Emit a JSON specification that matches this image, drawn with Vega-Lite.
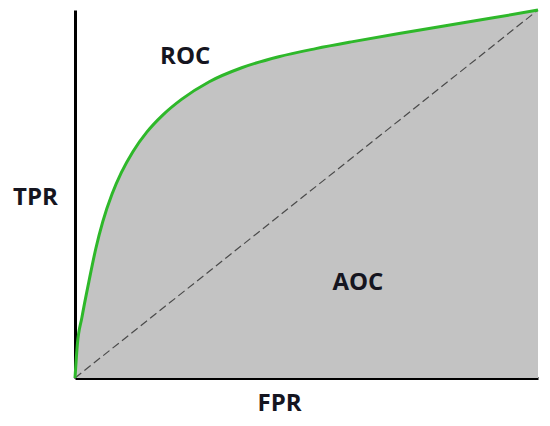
{
  "$schema": "https://vega.github.io/schema/vega-lite/v6.json",
  "autosize": {"type": "none"},
  "padding": {"left": 75, "top": 10, "right": 12, "bottom": 48},
  "width": 463,
  "height": 368,
  "background": "white",
  "config": {"view": {"stroke": null}},
  "datasets": {
    "roc": [
      {"fpr": 0, "tpr": 0},
      {"fpr": 0.005, "tpr": 0.09},
      {"fpr": 0.015, "tpr": 0.165},
      {"fpr": 0.03, "tpr": 0.262},
      {"fpr": 0.045, "tpr": 0.352},
      {"fpr": 0.06, "tpr": 0.425},
      {"fpr": 0.08, "tpr": 0.5},
      {"fpr": 0.1, "tpr": 0.558},
      {"fpr": 0.125, "tpr": 0.615},
      {"fpr": 0.155, "tpr": 0.668},
      {"fpr": 0.19, "tpr": 0.715},
      {"fpr": 0.23, "tpr": 0.757},
      {"fpr": 0.29, "tpr": 0.805},
      {"fpr": 0.36, "tpr": 0.843},
      {"fpr": 0.44, "tpr": 0.873},
      {"fpr": 0.52, "tpr": 0.895},
      {"fpr": 0.6, "tpr": 0.914},
      {"fpr": 0.7, "tpr": 0.936},
      {"fpr": 0.8, "tpr": 0.957},
      {"fpr": 0.9, "tpr": 0.978},
      {"fpr": 1, "tpr": 1}
    ],
    "diag": [
      {"fpr": 0, "tpr": 0},
      {"fpr": 1, "tpr": 1}
    ],
    "labels": [
      {"fpr": 0.238, "tpr": 0.872, "label": "ROC"},
      {"fpr": 0.611, "tpr": 0.258, "label": "AOC"}
    ]
  },
  "layer": [
    {
      "data": {"name": "roc"},
      "mark": {"type": "area", "color": "#c3c3c3", "interpolate": "monotone"},
      "encoding": {
        "x": {
          "field": "fpr", "type": "quantitative",
          "scale": {"domain": [0, 1], "nice": false, "zero": false},
          "axis": {
            "title": "FPR", "labels": false, "ticks": false, "grid": false,
            "domainColor": "#000", "domainWidth": 3,
            "titleFont": "Open Sans", "titleFontWeight": "bold", "titleFontSize": 24,
            "titleColor": "#151520", "titleX": 204, "titleY": 25, "titleAnchor": "middle", "titleBaseline": "middle"
          }
        },
        "y": {
          "field": "tpr", "type": "quantitative",
          "scale": {"domain": [0, 1], "nice": false, "zero": false},
          "axis": {
            "title": "TPR", "labels": false, "ticks": false, "grid": false,
            "domainColor": "#000", "domainWidth": 3,
            "titleFont": "Open Sans", "titleFontWeight": "bold", "titleFontSize": 24,
            "titleColor": "#151520", "titleAngle": 0, "titleX": -40, "titleY": 187,
            "titleAlign": "center", "titleBaseline": "middle"
          }
        }
      }
    },
    {
      "data": {"name": "diag"},
      "mark": {"type": "line", "color": "#4a4a4a", "strokeWidth": 1.2, "strokeDash": [8, 4]},
      "encoding": {
        "x": {"field": "fpr", "type": "quantitative"},
        "y": {"field": "tpr", "type": "quantitative"}
      }
    },
    {
      "data": {"name": "roc"},
      "mark": {"type": "line", "color": "#2eb82a", "strokeWidth": 3, "interpolate": "monotone"},
      "encoding": {
        "x": {"field": "fpr", "type": "quantitative"},
        "y": {"field": "tpr", "type": "quantitative"}
      }
    },
    {
      "data": {"name": "labels"},
      "mark": {"type": "text", "font": "Open Sans", "fontWeight": "bold", "fontSize": 24, "color": "#151520", "align": "center", "baseline": "middle"},
      "encoding": {
        "x": {"field": "fpr", "type": "quantitative"},
        "y": {"field": "tpr", "type": "quantitative"},
        "text": {"field": "label", "type": "nominal"}
      }
    }
  ]
}
